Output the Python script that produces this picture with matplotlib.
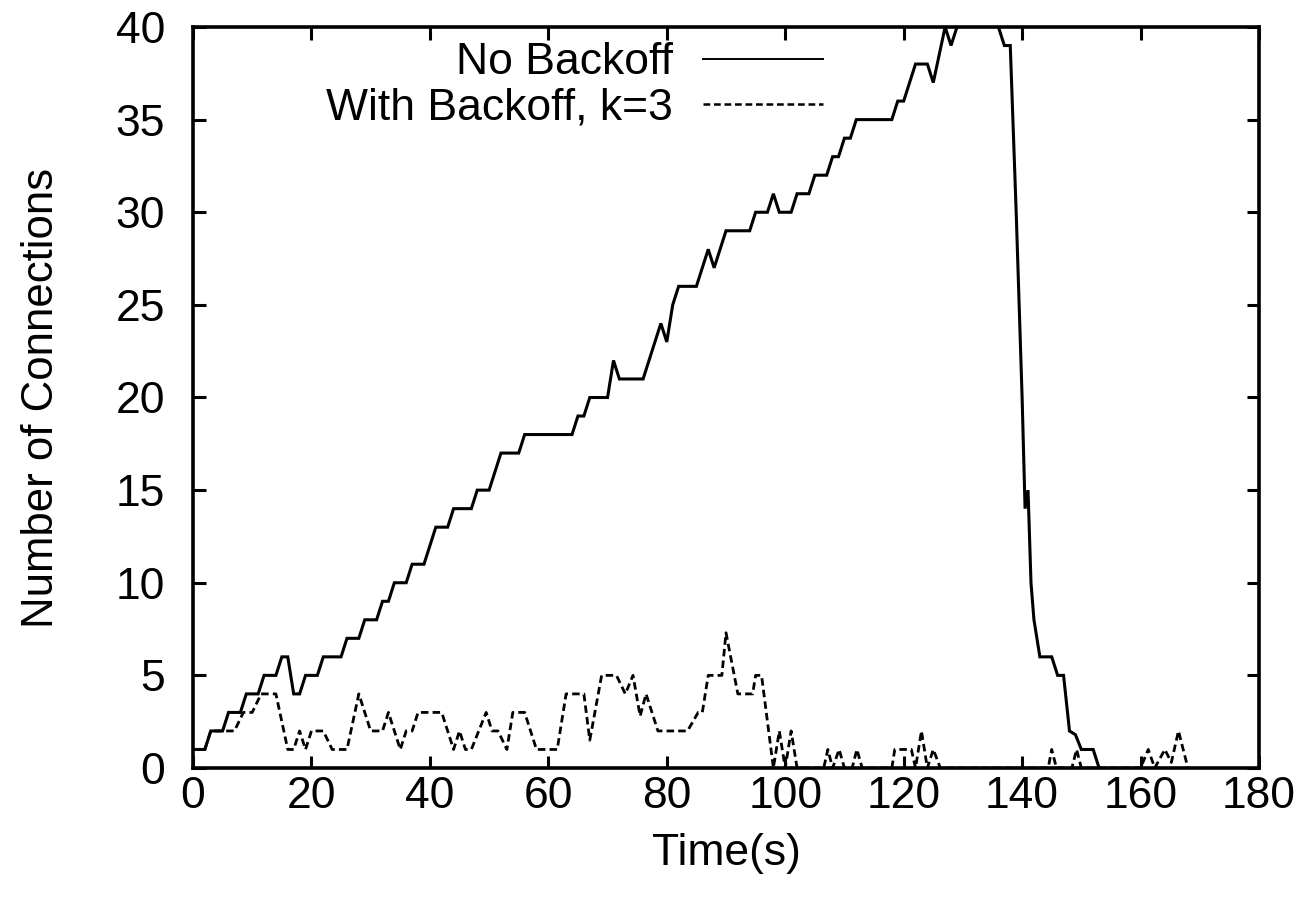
import matplotlib
matplotlib.use("Agg")
import matplotlib.pyplot as plt

plt.rcParams['font.family'] = ['Liberation Sans', 'DejaVu Sans']

# ---- data ----
no_backoff_t = [0, 2, 3, 5, 6, 8, 9, 11, 12, 14, 15, 16, 17, 18, 19, 21, 22, 25, 26, 28,
                29, 31, 32, 33, 34, 36, 37, 39, 40, 41, 43, 44, 47, 48, 50, 51, 52, 55, 56, 64,
                65, 66, 67, 70, 71, 72, 76, 77, 78, 79, 80, 81, 82, 85, 86, 87, 88, 89, 90, 94,
                95, 97, 98, 99, 101, 102, 104, 105, 107, 108, 109, 110, 111, 112, 118, 119, 120,
                121, 122, 124, 125, 127, 128, 129, 130, 135, 136, 137, 138, 139, 140, 140.5, 141,
                141.5, 142, 143, 145, 146, 147, 148, 149, 150, 152, 153]
no_backoff_n = [1, 1, 2, 2, 3, 3, 4, 4, 5, 5, 6, 6, 4, 4, 5, 5, 6, 6, 7, 7,
                8, 8, 9, 9, 10, 10, 11, 11, 12, 13, 13, 14, 14, 15, 15, 16, 17, 17, 18, 18,
                19, 19, 20, 20, 22, 21, 21, 22, 23, 24, 23, 25, 26, 26, 27, 28, 27, 28, 29, 29,
                30, 30, 31, 30, 30, 31, 31, 32, 32, 33, 33, 34, 34, 35, 35, 36, 36,
                37, 38, 38, 37, 40, 39, 40, 41, 41, 40, 39, 39, 30, 20, 14, 15,
                10, 8, 6, 6, 5, 5, 2, 1.8, 1, 1, 0]

backoff_t = [0, 2, 3, 7, 8.5, 10, 11.5, 14, 16, 17, 18, 19, 20, 22, 23.5, 26, 28, 30, 32, 33,
             35, 36, 37, 38, 42, 44, 45, 46, 47, 49.5, 50.5, 51.5, 53, 54, 56, 58, 61.5, 63, 66, 67,
             69, 71.5, 73, 74.3, 75.5, 76.5, 78.5, 83.5, 85.3, 86, 87, 89.3, 90, 92, 94.5, 95, 96, 98,
             99, 100, 101, 102, 106.5, 107.2, 108, 109.1, 110, 111.3, 112.1, 113, 118, 118.5, 121.3,
             122, 123, 124, 125, 126.2, 144.4, 145, 145.8, 148.4, 149.2, 150, 160, 161.3, 162.4,
             164.1, 165.2, 166.4, 168]
backoff_n = [1, 1, 2, 2, 3, 3, 4, 4, 1, 1, 2, 1, 2, 2, 1, 1, 4, 2, 2, 3,
             1, 2, 2, 3, 3, 1, 2, 1, 1, 3, 2, 2, 1, 3, 3, 1, 1, 4, 4, 1.5,
             5, 5, 4, 5, 2.8, 4, 2, 2, 3, 3, 5, 5, 7.3, 4, 4, 5, 5, 0,
             2, 0, 2, 0, 0, 1, 0, 1, 0, 0, 1, 0, 0, 1, 1,
             0, 2, 0, 1, 0, 0, 1, 0, 0, 1, 0, 0, 1, 0,
             1, 0.3, 2, 0]

x_ticks = [0, 20, 40, 60, 80, 100, 120, 140, 160, 180]
y_ticks = [0, 5, 10, 15, 20, 25, 30, 35, 40]

W, H = 1308, 902
FS = 32
fig = plt.figure(figsize=(W / 100, H / 100), dpi=100)
left, right, top, bottom = 193, 1259, 27, 768
ax = fig.add_axes([left / W, 1 - bottom / H, (right - left) / W, (bottom - top) / H])

ax.plot(no_backoff_t, no_backoff_n, color='black', lw=2.2, solid_joinstyle='miter',
        label='No Backoff')
ax.plot(backoff_t, backoff_n, color='black', lw=2.0, linestyle=(0, (2.7, 1.5)),
        label='With Backoff, k=3')

ax.set_xlim(0, 180)
ax.set_ylim(0, 40)
ax.set_xticks(x_ticks)
ax.set_yticks(y_ticks)
ax.tick_params(direction='in', length=9, width=2.2, top=True, right=True,
               labelsize=FS)
ax.tick_params(axis='y', pad=20)
ax.tick_params(axis='x', pad=6)
for s in ax.spines.values():
    s.set_linewidth(2.6)

ax.set_xlabel('Time(s)', fontsize=FS, labelpad=11)
ax.set_ylabel('Number of Connections', fontsize=31.5, labelpad=39)

bp = 0.34
em = FS * 100 / 72
leg = ax.legend(loc='upper right',
                bbox_to_anchor=((823 - left + bp * em) / (right - left), 1.0),
                frameon=False, fontsize=FS, markerfirst=False, handlelength=2.7,
                handletextpad=0.68, labelspacing=0.09, borderaxespad=0.0, borderpad=bp)
for t in leg.get_texts():
    t.set_ha('right')
leg_lines = leg.get_lines()
leg_lines[0].set_linewidth(1.4)
leg_lines[1].set_linewidth(1.8)

fig.savefig('out.png', dpi=100)
